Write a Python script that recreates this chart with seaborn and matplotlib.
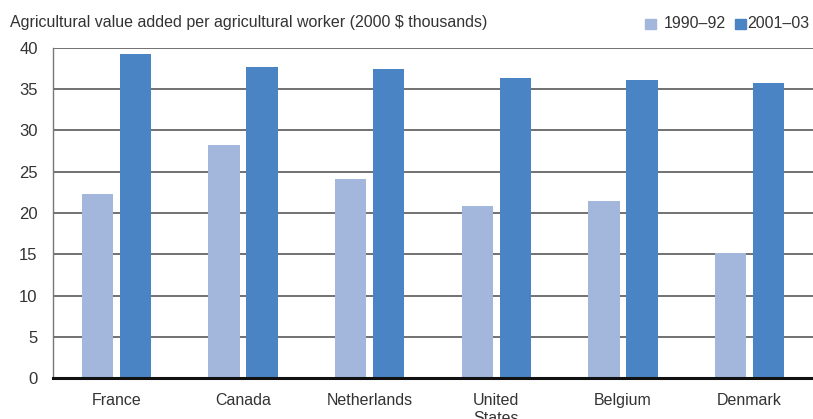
import matplotlib
matplotlib.use("Agg")
import matplotlib.pyplot as plt
import seaborn as sns
import pandas as pd

countries = ["France", "Canada", "Netherlands", "United\nStates", "Belgium", "Denmark"]
early_period = [22.3, 28.2, 24.1, 20.85, 21.45, 15.15]
late_period = [39.3, 37.7, 37.45, 36.35, 36.1, 35.75]
periods = ["1990–92", "2001–03"]
y_ticks = [0, 5, 10, 15, 20, 25, 30, 35, 40]

df = pd.DataFrame({
    "country": countries * 2,
    "period": [periods[0]] * len(countries) + [periods[1]] * len(countries),
    "value": early_period + late_period,
})

sns.set_theme(style="white")
plt.rcParams["font.family"] = ["Liberation Sans", "DejaVu Sans"]

fig = plt.figure(figsize=(8.13, 4.19), dpi=100)
ax = fig.add_axes([53 / 813, 1 - 378 / 419, 760 / 813, 330 / 419])

palette = ["#a3b6dc", "#4b84c4"]
sns.barplot(data=df, x="country", y="value", hue="period", order=countries,
            hue_order=periods, palette=palette, width=0.6, gap=0.18,
            saturation=1, ax=ax, legend=False, zorder=3, linewidth=0,
            edgecolor="none")

ax.set_ylim(0, 40)
ax.set_xlim(-0.5, 5.5)
ax.set_yticks(y_ticks)
ax.set_yticklabels([str(t) for t in y_ticks], fontsize=12, color="#333333")
ax.tick_params(axis="y", length=0, pad=11)
ax.tick_params(axis="x", length=0, pad=11, labelsize=11.5, labelcolor="#333333")
for t in y_ticks[1:]:
    ax.axhline(t, color="#4a4a4a", lw=1.1, zorder=1)
ax.set_xlabel("")
ax.set_ylabel("")

for side in ["top", "right"]:
    ax.spines[side].set_visible(False)
ax.spines["left"].set_color("#777777")
ax.spines["left"].set_linewidth(1.0)
ax.spines["bottom"].set_color("#111111")
ax.spines["bottom"].set_linewidth(2.2)
ax.spines["bottom"].set_zorder(5)

fig.text(10 / 813, 1 - 23 / 419, "Agricultural value added per agricultural worker (2000 $ thousands)",
         fontsize=11.5, color="#333333", va="center", ha="left")

# legend squares and labels (labels right-aligned so they stay inside the figure)
legend_items = [(645, 726, periods[0], palette[0]), (735, 809, periods[1], palette[1])]
for x_sq, x_end, label, color in legend_items:
    fig.patches.append(plt.Rectangle((x_sq / 813, 1 - 29 / 419), 11 / 813, 10 / 419,
                                     transform=fig.transFigure, color=color))
    fig.text(x_end / 813, 1 - 24 / 419, label, fontsize=11.5, color="#333333",
             va="center", ha="right")

fig.savefig("out.png", dpi=100)
